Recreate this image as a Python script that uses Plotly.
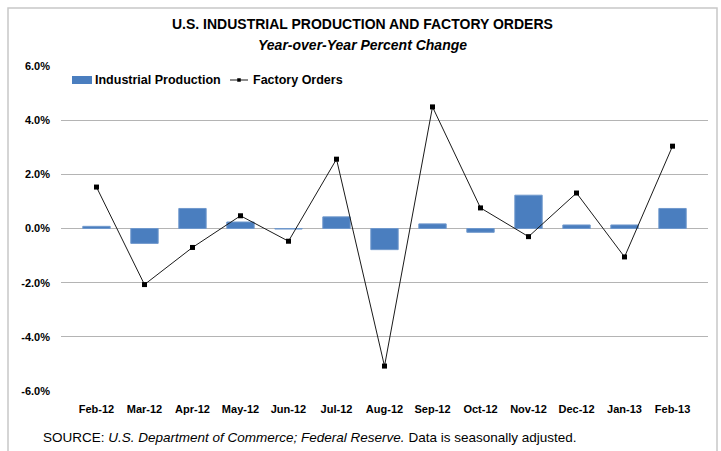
import plotly.graph_objects as go

months = ["Feb-12", "Mar-12", "Apr-12", "May-12", "Jun-12", "Jul-12", "Aug-12",
          "Sep-12", "Oct-12", "Nov-12", "Dec-12", "Jan-13", "Feb-13"]
industrial_production = [0.08, -0.55, 0.74, 0.24, -0.02, 0.43, -0.78,
                         0.17, -0.14, 1.23, 0.13, 0.13, 0.74]
factory_orders = [1.53, -2.07, -0.70, 0.47, -0.47, 2.56, -5.08,
                  4.49, 0.76, -0.30, 1.31, -1.05, 3.04]
y_ticks = [-6, -4, -2, 0, 2, 4, 6]
y_tick_labels = ["-6.0%", "-4.0%", "-2.0%", "0.0%", "2.0%", "4.0%", "6.0%"]

FONT = "Liberation Sans"
W, H = 721, 451
ml, mr, mt, mb = 61, 13, 66, 60
pw, ph = W - ml - mr, H - mt - mb
BAR_COLOR = "#4a7ebf"


def px_x(x):
    return (x - ml) / pw


def px_y(y):
    return (H - mb - y) / ph


fig = go.Figure()
fig.add_trace(go.Bar(
    x=months, y=industrial_production, name="Industrial Production",
    marker=dict(color=BAR_COLOR, line=dict(color="#6f98cc", width=1)),
    showlegend=False,
))
fig.add_trace(go.Scatter(
    x=months, y=factory_orders, name="Factory Orders", mode="lines+markers",
    line=dict(color="#1a1a1a", width=1),
    marker=dict(symbol="square", size=5, color="#000000"),
    showlegend=False,
))

shapes = [
    # frame around the whole chart
    dict(type="rect", xref="paper", yref="paper",
         x0=px_x(8), x1=px_x(717), y0=px_y(452), y1=px_y(8),
         line=dict(color="#c8c8c8", width=1.5), layer="below"),
    # legend swatch: bar
    dict(type="rect", xref="paper", yref="paper",
         x0=px_x(72), x1=px_x(92), y0=px_y(84), y1=px_y(76),
         fillcolor=BAR_COLOR, line=dict(width=0)),
    # legend swatch: line
    dict(type="line", xref="paper", yref="paper",
         x0=px_x(230), x1=px_x(248), y0=px_y(80), y1=px_y(80),
         line=dict(color="#1a1a1a", width=1)),
    dict(type="rect", xref="paper", yref="paper",
         x0=px_x(237.5), x1=px_x(240.5), y0=px_y(81.5), y1=px_y(78.5),
         fillcolor="#000", line=dict(color="#000", width=0.5)),
]

fig.update_layout(
    width=W, height=H,
    margin=dict(l=ml, r=mr, t=mt, b=mb),
    paper_bgcolor="white", plot_bgcolor="white",
    font=dict(family=FONT, color="#000000"),
    bargap=0.43,
    showlegend=False,
    shapes=shapes,
    xaxis=dict(
        type="category", showgrid=False, showline=False, zeroline=False,
        tickfont=dict(family=FONT, size=11, color="#000", weight="bold"),
        ticks="", ticklabelstandoff=10,
    ),
    yaxis=dict(
        range=[-6, 6], tickvals=y_ticks, ticktext=y_tick_labels,
        showgrid=True, gridcolor="#b4b4b4", gridwidth=1,
        zeroline=True, zerolinecolor="#b4b4b4", zerolinewidth=1,
        showline=False, ticks="",
        tickfont=dict(family=FONT, size=11, color="#000", weight="bold"),
        ticklabelstandoff=10,
    ),
    annotations=[
        dict(text="<b>U.S. INDUSTRIAL PRODUCTION AND FACTORY ORDERS</b>",
             xref="paper", yref="paper", x=px_x(362), y=px_y(24),
             xanchor="center", yanchor="middle", showarrow=False,
             font=dict(family=FONT, size=14, color="#000")),
        dict(text="<b><i>Year-over-Year Percent Change</i></b>",
             xref="paper", yref="paper", x=px_x(362), y=px_y(45),
             xanchor="center", yanchor="middle", showarrow=False,
             font=dict(family=FONT, size=14, color="#000")),
        dict(text="<b>Industrial Production</b>",
             xref="paper", yref="paper", x=px_x(93), y=px_y(80),
             xanchor="left", yanchor="middle", showarrow=False,
             font=dict(family=FONT, size=12.5, color="#000")),
        dict(text="<b>Factory Orders</b>",
             xref="paper", yref="paper", x=px_x(251), y=px_y(80),
             xanchor="left", yanchor="middle", showarrow=False,
             font=dict(family=FONT, size=12.5, color="#000")),
        dict(text="SOURCE: <i>U.S. Department of Commerce; Federal Reserve.</i> Data is seasonally adjusted.",
             xref="paper", yref="paper", x=px_x(41), y=px_y(437),
             xanchor="left", yanchor="middle", showarrow=False,
             font=dict(family=FONT, size=13.5, color="#000")),
    ],
)

fig.write_html("out.html", config={"displayModeBar": False},
               post_script="document.body.style.margin='0';document.body.style.padding='0';")
